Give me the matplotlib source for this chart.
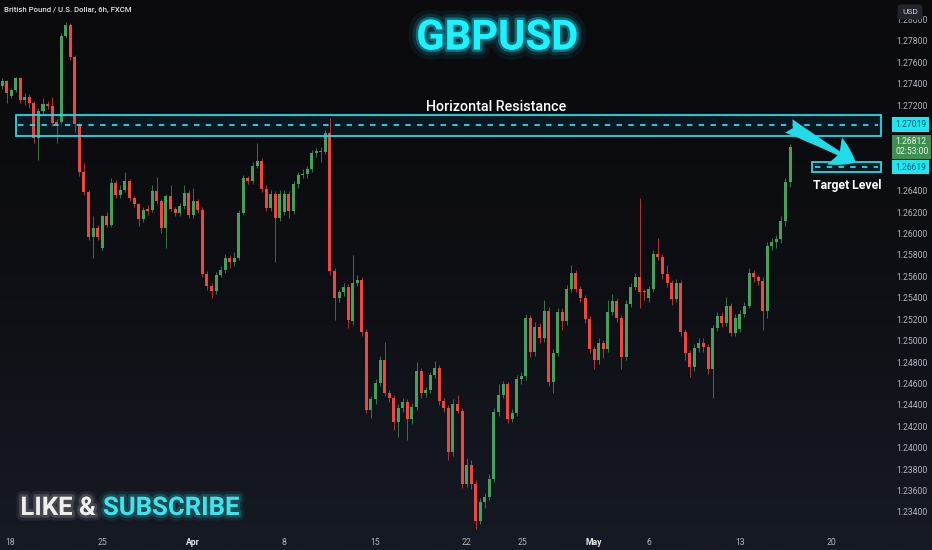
import numpy as np
import matplotlib
matplotlib.use('Agg')
import matplotlib.pyplot as plt
import matplotlib.patheffects as pe
import matplotlib.transforms as mtransforms
from matplotlib.patches import Rectangle
from matplotlib.colors import LinearSegmentedColormap

# GBPUSD 6h candles, 2024-03-18 .. 2024-05-15
opens = [1.2738, 1.2743, 1.2729, 1.2734, 1.2745, 1.2725, 1.2728, 1.2722, 1.2689, 1.2715,
         1.2721, 1.2719, 1.2704, 1.2704, 1.2785, 1.2795, 1.2765, 1.2702, 1.2658, 1.2639,
         1.2597, 1.2605, 1.2587, 1.2616, 1.2608, 1.2647, 1.2636, 1.2641, 1.2649, 1.2633,
         1.2628, 1.2614, 1.2623, 1.2622, 1.2640, 1.2630, 1.2605, 1.2635, 1.2623, 1.2619,
         1.2626, 1.2638, 1.2617, 1.2630, 1.2622, 1.2562, 1.2551, 1.2546, 1.2561, 1.2566,
         1.2577, 1.2573, 1.2577, 1.2619, 1.2652, 1.2649, 1.2663, 1.2668, 1.2642, 1.2624,
         1.2637, 1.2615, 1.2620, 1.2637, 1.2621, 1.2646, 1.2655, 1.2656, 1.2660, 1.2675,
         1.2677, 1.2676, 1.2694, 1.2565, 1.2540, 1.2545, 1.2550, 1.2518, 1.2554, 1.2557,
         1.2508, 1.2435, 1.2445, 1.2460, 1.2482, 1.2451, 1.2446, 1.2424, 1.2437, 1.2443,
         1.2427, 1.2438, 1.2472, 1.2451, 1.2454, 1.2468, 1.2474, 1.2444, 1.2437, 1.2396,
         1.2441, 1.2434, 1.2366, 1.2384, 1.2366, 1.2331, 1.2349, 1.2354, 1.2371, 1.2433,
         1.2449, 1.2459, 1.2427, 1.2432, 1.2464, 1.2467, 1.2521, 1.2489, 1.2513, 1.2502,
         1.2528, 1.2461, 1.2488, 1.2527, 1.2518, 1.2548, 1.2563, 1.2548, 1.2540, 1.2520,
         1.2492, 1.2482, 1.2498, 1.2492, 1.2527, 1.2537, 1.2521, 1.2485, 1.2534, 1.2550,
         1.2559, 1.2546, 1.2540, 1.2548, 1.2581, 1.2578, 1.2562, 1.2554, 1.2539, 1.2554,
         1.2508, 1.2488, 1.2475, 1.2493, 1.2498, 1.2494, 1.2473, 1.2512, 1.2523, 1.2516,
         1.2532, 1.2507, 1.2511, 1.2525, 1.2532, 1.2563, 1.2559, 1.2556, 1.2528, 1.2588,
         1.2592, 1.2595, 1.2612, 1.2648]
highs = [1.2745, 1.2744, 1.2736, 1.2746, 1.2746, 1.2731, 1.2730, 1.2724, 1.2717, 1.2727,
         1.2724, 1.2728, 1.2707, 1.2787, 1.2798, 1.2797, 1.2767, 1.2703, 1.2666, 1.2641,
         1.2616, 1.2608, 1.2617, 1.2620, 1.2652, 1.2650, 1.2645, 1.2658, 1.2651, 1.2635,
         1.2629, 1.2625, 1.2627, 1.2645, 1.2653, 1.2632, 1.2637, 1.2645, 1.2625, 1.2629,
         1.2645, 1.2641, 1.2643, 1.2632, 1.2625, 1.2565, 1.2554, 1.2564, 1.2570, 1.2581,
         1.2580, 1.2583, 1.2622, 1.2655, 1.2654, 1.2667, 1.2685, 1.2671, 1.2645, 1.2641,
         1.2640, 1.2641, 1.2641, 1.2640, 1.2649, 1.2658, 1.2660, 1.2663, 1.2678, 1.2680,
         1.2681, 1.2697, 1.2708, 1.2568, 1.2547, 1.2554, 1.2553, 1.2580, 1.2561, 1.2559,
         1.2511, 1.2448, 1.2464, 1.2486, 1.2499, 1.2454, 1.2449, 1.2441, 1.2446, 1.2445,
         1.2442, 1.2480, 1.2474, 1.2457, 1.2471, 1.2481, 1.2477, 1.2446, 1.2440, 1.2445,
         1.2449, 1.2437, 1.2390, 1.2388, 1.2370, 1.2353, 1.2358, 1.2375, 1.2437, 1.2459,
         1.2462, 1.2461, 1.2436, 1.2468, 1.2471, 1.2525, 1.2524, 1.2517, 1.2516, 1.2538,
         1.2531, 1.2492, 1.2530, 1.2530, 1.2552, 1.2571, 1.2566, 1.2551, 1.2543, 1.2523,
         1.2495, 1.2502, 1.2501, 1.2538, 1.2544, 1.2540, 1.2524, 1.2538, 1.2554, 1.2563,
         1.2633, 1.2548, 1.2551, 1.2585, 1.2596, 1.2581, 1.2571, 1.2557, 1.2558, 1.2557,
         1.2511, 1.2491, 1.2497, 1.2502, 1.2502, 1.2497, 1.2515, 1.2527, 1.2527, 1.2541,
         1.2535, 1.2525, 1.2529, 1.2536, 1.2568, 1.2566, 1.2561, 1.2559, 1.2592, 1.2596,
         1.2599, 1.2616, 1.2652, 1.2684]
lows = [1.2735, 1.2722, 1.2727, 1.2732, 1.2722, 1.2720, 1.2717, 1.2685, 1.2669, 1.2713,
        1.2716, 1.2701, 1.2685, 1.2702, 1.2783, 1.2762, 1.2695, 1.2654, 1.2636, 1.2594,
        1.2577, 1.2594, 1.2585, 1.2606, 1.2606, 1.2633, 1.2633, 1.2639, 1.2630, 1.2625,
        1.2607, 1.2611, 1.2617, 1.2620, 1.2628, 1.2601, 1.2587, 1.2621, 1.2616, 1.2616,
        1.2623, 1.2615, 1.2615, 1.2619, 1.2559, 1.2547, 1.2540, 1.2544, 1.2559, 1.2563,
        1.2568, 1.2570, 1.2575, 1.2617, 1.2646, 1.2646, 1.2661, 1.2639, 1.2621, 1.2621,
        1.2573, 1.2612, 1.2617, 1.2615, 1.2618, 1.2643, 1.2652, 1.2652, 1.2658, 1.2672,
        1.2667, 1.2674, 1.2561, 1.2519, 1.2536, 1.2542, 1.2512, 1.2515, 1.2551, 1.2504,
        1.2432, 1.2428, 1.2441, 1.2458, 1.2448, 1.2443, 1.2416, 1.2410, 1.2433, 1.2407,
        1.2422, 1.2435, 1.2446, 1.2447, 1.2451, 1.2465, 1.2440, 1.2433, 1.2388, 1.2392,
        1.2432, 1.2362, 1.2363, 1.2361, 1.2324, 1.2329, 1.2344, 1.2351, 1.2368, 1.2430,
        1.2446, 1.2423, 1.2424, 1.2430, 1.2459, 1.2463, 1.2485, 1.2486, 1.2498, 1.2499,
        1.2458, 1.2451, 1.2486, 1.2510, 1.2515, 1.2545, 1.2545, 1.2536, 1.2516, 1.2488,
        1.2473, 1.2478, 1.2484, 1.2489, 1.2524, 1.2517, 1.2473, 1.2482, 1.2531, 1.2547,
        1.2530, 1.2538, 1.2536, 1.2545, 1.2575, 1.2558, 1.2550, 1.2533, 1.2536, 1.2504,
        1.2482, 1.2466, 1.2472, 1.2489, 1.2489, 1.2469, 1.2446, 1.2509, 1.2513, 1.2514,
        1.2504, 1.2504, 1.2508, 1.2522, 1.2530, 1.2555, 1.2552, 1.2510, 1.2521, 1.2585,
        1.2587, 1.2591, 1.2607, 1.2644]
closes = [1.2743, 1.2731, 1.2734, 1.2745, 1.2725, 1.2728, 1.2722, 1.2689, 1.2715, 1.2721,
          1.2719, 1.2703, 1.2702, 1.2785, 1.2795, 1.2765, 1.2702, 1.2658, 1.2639, 1.2597,
          1.2605, 1.2597, 1.2616, 1.2608, 1.2647, 1.2636, 1.2641, 1.2649, 1.2633, 1.2628,
          1.2614, 1.2622, 1.2621, 1.2640, 1.2630, 1.2605, 1.2635, 1.2623, 1.2619, 1.2626,
          1.2638, 1.2617, 1.2630, 1.2622, 1.2562, 1.2551, 1.2546, 1.2561, 1.2566, 1.2577,
          1.2573, 1.2577, 1.2619, 1.2652, 1.2649, 1.2663, 1.2668, 1.2642, 1.2624, 1.2637,
          1.2615, 1.2637, 1.2637, 1.2621, 1.2646, 1.2655, 1.2656, 1.2660, 1.2675, 1.2677,
          1.2676, 1.2694, 1.2565, 1.2540, 1.2545, 1.2550, 1.2519, 1.2554, 1.2557, 1.2508,
          1.2435, 1.2445, 1.2460, 1.2482, 1.2451, 1.2446, 1.2424, 1.2437, 1.2443, 1.2427,
          1.2438, 1.2472, 1.2451, 1.2454, 1.2468, 1.2474, 1.2444, 1.2437, 1.2396, 1.2441,
          1.2434, 1.2366, 1.2384, 1.2366, 1.2331, 1.2349, 1.2354, 1.2371, 1.2433, 1.2449,
          1.2459, 1.2427, 1.2432, 1.2464, 1.2467, 1.2521, 1.2489, 1.2513, 1.2502, 1.2528,
          1.2461, 1.2488, 1.2527, 1.2518, 1.2548, 1.2563, 1.2548, 1.2540, 1.2520, 1.2492,
          1.2482, 1.2498, 1.2492, 1.2527, 1.2537, 1.2521, 1.2485, 1.2534, 1.2550, 1.2559,
          1.2545, 1.2545, 1.2548, 1.2581, 1.2578, 1.2562, 1.2554, 1.2539, 1.2554, 1.2508,
          1.2488, 1.2475, 1.2493, 1.2498, 1.2494, 1.2473, 1.2512, 1.2523, 1.2516, 1.2532,
          1.2507, 1.2521, 1.2525, 1.2532, 1.2563, 1.2559, 1.2556, 1.2528, 1.2588, 1.2592,
          1.2595, 1.2612, 1.2648, 1.2681]

date_pos = [1.8, 22, 42, 62, 82, 102, 114.2, 130, 142, 162, 182]
date_labels = ['18', '25', 'Apr', '8', '15', '22', '25', 'May', '6', '13', '20']
price_ticks = [1.234, 1.236, 1.238, 1.240, 1.242, 1.244, 1.246, 1.248, 1.250, 1.252,
               1.254, 1.256, 1.258, 1.260, 1.262, 1.264, 1.272, 1.274, 1.276, 1.278, 1.280]

resistance = 1.27019
resistance_band = (1.2691, 1.2711)
target = 1.26619
target_band = (1.26578, 1.26666)
last_price = 1.26812
countdown = '02:53:00'

UP = '#46a05c'
DOWN = '#f2453d'
CYAN = '#22dbe8'

W, H = 932, 550
fig = plt.figure(figsize=(W / 100, H / 100), dpi=100)

# background gradient
bg = fig.add_axes([0, 0, 1, 1], zorder=-5)
cmap = LinearSegmentedColormap.from_list('bg', ['#0a0a0c', '#0e0f14', '#161a24'])
bg.imshow(np.linspace(0, 1, 256).reshape(-1, 1), aspect='auto', cmap=cmap,
          extent=[0, 1, 0, 1], origin='upper')
bg.axis('off')

ax = fig.add_axes([0, 20 / H, 882 / W, 530 / H])
ax.set_facecolor('none')
ax.set_xlim(-0.44, 193.19)
ax.set_ylim(1.2323, 1.28183)
for s in ax.spines.values():
    s.set_visible(False)

x = np.arange(len(opens))
o = np.array(opens)
c = np.array(closes)
colors = [UP if cc >= oo else DOWN for oo, cc in zip(o, c)]
ax.vlines(x, lows, highs, colors=colors, linewidth=0.7, alpha=0.7, zorder=2)
body = np.maximum(np.abs(c - o), 0.00009)
ax.bar(x, body, bottom=np.minimum(o, c), width=0.66, color=colors, linewidth=0, zorder=3)

# resistance zone
ax.add_patch(Rectangle((3.0, resistance_band[0]), 192.9 - 3.0,
                       resistance_band[1] - resistance_band[0],
                       facecolor=(0.1, 0.6, 0.8, 0.09), edgecolor=CYAN, lw=1.3, zorder=4))
ax.hlines(resistance, 3.5, 192.4, colors=CYAN, linestyles=(0, (3, 3.5)), lw=1.3, zorder=4)
ax.text(108.5, 1.2718, 'Horizontal Resistance', color='white', fontsize=10.3,
        family='Roboto', fontweight='medium', ha='center', va='center', zorder=6)

# target zone
ax.add_patch(Rectangle((177.9, target_band[0]), 192.9 - 177.9,
                       target_band[1] - target_band[0],
                       facecolor=(0.1, 0.6, 0.8, 0.09), edgecolor=CYAN, lw=1.3, zorder=4))
ax.hlines(target, 178.5, 192.4, colors=CYAN, linestyles=(0, (3, 3.5)), lw=1.3, zorder=4)
ax.text(185.6, 1.2645, 'Target Level', color='white', fontsize=8.8,
        family='Roboto', fontweight='bold', ha='center', va='center', zorder=6)

ax.annotate('', xy=(188.0, 1.2665), xytext=(172.2, resistance),
            arrowprops=dict(arrowstyle='fancy,head_length=0.8,head_width=1.0,tail_width=0.5',
                            fc=CYAN, ec='none', mutation_scale=22), zorder=5)

# price axis
ax.yaxis.tick_right()
ax.set_yticks(price_ticks)
ax.set_yticklabels([f'{p:.5f}' for p in price_ticks])
ax.tick_params(axis='y', length=0, pad=10.5, labelsize=6.2, labelcolor='#b2b5be')
for t in ax.get_yticklabels():
    t.set_family('Roboto')

ax.set_xticks(date_pos)
ax.set_xticklabels(date_labels)
ax.tick_params(axis='x', length=0, pad=6, labelsize=6.2, labelcolor='#b2b5be')
for t in ax.get_xticklabels():
    t.set_family('Roboto')
    if t.get_text() in ('Apr', 'May'):
        t.set_color('#e8e8ea')
        t.set_fontweight('bold')

tr = mtransforms.blended_transform_factory(ax.transAxes, ax.transData)
lbl_x = 895 / 882
for price, txt in [(resistance, f'{resistance:.5f}'), (target, f'{target:.5f}')]:
    ax.text(lbl_x, price, txt, transform=tr, fontsize=6.2, family='Roboto',
            color='#0d5f6e', ha='left', va='center', clip_on=False, zorder=7,
            bbox=dict(boxstyle='square,pad=0.3', fc='#1fe6f2', ec='none'))
ax.text(lbl_x, last_price, f'{last_price:.5f}\n{countdown}', transform=tr,
        fontsize=6.2, family='Roboto', color='#e6f2e6', ha='left', va='center',
        linespacing=1.1, clip_on=False, zorder=7,
        bbox=dict(boxstyle='square,pad=0.3', fc='#3e8f52', ec='none'))

# USD box
fig.text(910 / W, 1 - 12 / H, 'USD', ha='center', va='center', fontsize=6,
         family='Roboto', color='#d1d4dc', zorder=10,
         bbox=dict(boxstyle='round,pad=0.55,rounding_size=0.4', fc='#22252e', ec='none'))

# header texts
fig.text(4 / W, 1 - 10 / H, 'British Pound / U.S. Dollar, 6h, FXCM', ha='left',
         va='center', fontsize=5.6, family='Roboto', fontweight='medium', color='#e6e6e6')

glow_c = [pe.Stroke(linewidth=14, foreground='#19e6ff', alpha=0.06),
          pe.Stroke(linewidth=8, foreground='#19e6ff', alpha=0.12),
          pe.Stroke(linewidth=3.5, foreground='#19e6ff', alpha=0.35), pe.Normal()]
fig.text(497 / W, 1 - 38 / H, 'GBPUSD', ha='center', va='center', fontsize=30,
         family='Roboto', fontweight='bold', color='#1ff2ff', path_effects=glow_c)

glow_w = [pe.Stroke(linewidth=8, foreground='white', alpha=0.07),
          pe.Stroke(linewidth=4, foreground='white', alpha=0.15), pe.Normal()]
glow_s = [pe.Stroke(linewidth=8, foreground='#3de6f0', alpha=0.08),
          pe.Stroke(linewidth=4, foreground='#3de6f0', alpha=0.18), pe.Normal()]
fig.text(96 / W, 1 - 508 / H, 'LIKE &', ha='right', va='center', fontsize=18.5,
         family='Roboto', fontweight='bold', color='#eeeeee', path_effects=glow_w)
fig.text(103 / W, 1 - 508 / H, 'SUBSCRIBE', ha='left', va='center', fontsize=18.5,
         family='Roboto', fontweight='bold', color='#3fe3ec', path_effects=glow_s)

fig.savefig('out.png', dpi=100, facecolor='#0c0c0f')
